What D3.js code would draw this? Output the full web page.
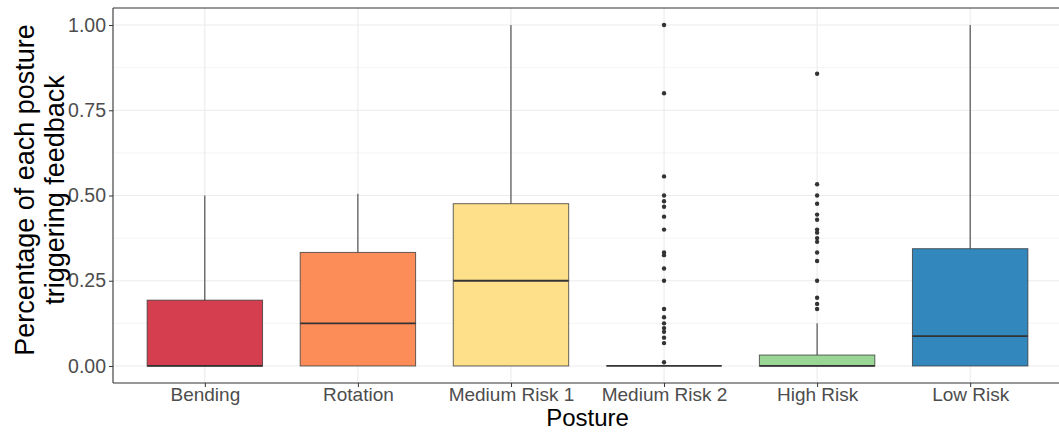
<!DOCTYPE html>
<html>
<head>
<meta charset="utf-8">
<script src="https://cdn.jsdelivr.net/npm/d3@7"></script>
<style>
  body { margin: 0; background: #fff; }
  text { font-family: "Liberation Sans", Arial, sans-serif; }
</style>
</head>
<body>
<script>
// postures and box stats
const postures = ["Bending", "Rotation", "Medium Risk 1", "Medium Risk 2", "High Risk", "Low Risk"];
const colors = ["#D53E4F", "#FC8D59", "#FEE08B", "#E6F598", "#99D594", "#3288BD"];
const lower = [0, 0, 0, 0, 0, 0];
const q1 = [0, 0, 0, 0, 0, 0];
const median = [0, 0.125, 0.25, 0, 0, 0.0877];
const q3 = [0.193, 0.333, 0.476, 0, 0.032, 0.344];
const upper = [0.5, 0.505, 1.0, 0, 0.125, 1.0];
const outliersMR2 = [1.0, 0.8, 0.556, 0.5, 0.483, 0.467, 0.438, 0.4, 0.333, 0.325, 0.286, 0.25, 0.167, 0.143, 0.125, 0.111, 0.1, 0.083, 0.067, 0.011];
const outliersHR = [0.857, 0.533, 0.5, 0.476, 0.444, 0.429, 0.4, 0.391, 0.375, 0.364, 0.333, 0.308, 0.25, 0.2, 0.182, 0.167];
const yTicks = [0, 0.25, 0.5, 0.75, 1.0];
const yMinor = [0.125, 0.375, 0.625, 0.875];

const outliers = [[], [], [], outliersMR2, outliersHR, []];

const W = 1059, H = 435;
const margin = {top: 8, right: -3, bottom: 52, left: 113};

const svg = d3.select("body").append("svg")
    .attr("width", W)
    .attr("height", H);

const x = d3.scalePoint()
    .domain(postures)
    .range([margin.left, W - margin.right])
    .padding(0.6);

const y = d3.scaleLinear()
    .domain([-0.05, 1.05])
    .range([H - margin.bottom, margin.top]);

const boxW = x.step() * 0.754;

// grid
const grid = svg.append("g");
grid.selectAll(".minor").data(yMinor).join("line")
    .attr("x1", margin.left).attr("x2", W)
    .attr("y1", d => y(d)).attr("y2", d => y(d))
    .attr("stroke", "#F4F4F4").attr("stroke-width", 1);
grid.selectAll(".major").data(yTicks).join("line")
    .attr("x1", margin.left).attr("x2", W)
    .attr("y1", d => y(d)).attr("y2", d => y(d))
    .attr("stroke", "#EBEBEB").attr("stroke-width", 1.1);
grid.selectAll(".vmajor").data(postures).join("line")
    .attr("x1", d => x(d)).attr("x2", d => x(d))
    .attr("y1", margin.top).attr("y2", H - margin.bottom)
    .attr("stroke", "#EBEBEB").attr("stroke-width", 1.1);

// boxes
const data = postures.map((p, i) => ({
    p, color: colors[i], lo: lower[i], q1: q1[i], med: median[i], q3: q3[i], hi: upper[i], out: outliers[i]
}));

const g = svg.append("g");
data.forEach(d => {
    const cx = x(d.p);
    // whiskers
    if (d.hi > d.q3) {
        g.append("line")
            .attr("x1", cx).attr("x2", cx)
            .attr("y1", y(d.q3)).attr("y2", y(d.hi))
            .attr("stroke", "#333").attr("stroke-width", 1);
    }
    g.append("rect")
        .attr("x", cx - boxW / 2)
        .attr("width", boxW)
        .attr("y", y(d.q3))
        .attr("height", Math.max(0, y(d.q1) - y(d.q3)))
        .attr("fill", d.color)
        .attr("stroke", "#333")
        .attr("stroke-opacity", 0.75)
        .attr("stroke-width", 1);
    g.append("line")
        .attr("x1", cx - boxW / 2).attr("x2", cx + boxW / 2)
        .attr("y1", y(d.med)).attr("y2", y(d.med))
        .attr("stroke", "#333").attr("stroke-width", 1.8);
    g.selectAll(null).data(d.out).join("circle")
        .attr("cx", cx)
        .attr("cy", v => y(v))
        .attr("r", 2.2)
        .attr("fill", "#333");
});

// panel border
svg.append("line")
    .attr("x1", margin.left).attr("x2", margin.left)
    .attr("y1", margin.top).attr("y2", H - margin.bottom)
    .attr("stroke", "#333").attr("stroke-width", 1.1);
svg.append("line")
    .attr("x1", margin.left).attr("x2", W)
    .attr("y1", margin.top).attr("y2", margin.top)
    .attr("stroke", "#333").attr("stroke-width", 1.1);
svg.append("line")
    .attr("x1", margin.left).attr("x2", W)
    .attr("y1", H - margin.bottom).attr("y2", H - margin.bottom)
    .attr("stroke", "#333").attr("stroke-width", 1.1);

// axes
const yAxis = svg.append("g")
    .attr("transform", `translate(${margin.left},0)`)
    .call(d3.axisLeft(y).tickValues(yTicks).tickFormat(d3.format(".2f")).tickSize(4).tickPadding(3));
yAxis.select(".domain").remove();
yAxis.selectAll("line").attr("stroke", "#333");
yAxis.selectAll("text").attr("fill", "#4D4D4D").style("font-size", "19.5px");

const xAxis = svg.append("g")
    .attr("transform", `translate(0,${H - margin.bottom})`)
    .call(d3.axisBottom(x).tickSize(4).tickPadding(1));
xAxis.select(".domain").remove();
xAxis.selectAll("line").attr("stroke", "#333");
xAxis.selectAll("text").attr("fill", "#4D4D4D").style("font-size", "19px");

// titles
svg.append("text")
    .attr("x", (margin.left + x.range()[1]) / 2)
    .attr("y", 426)
    .attr("text-anchor", "middle")
    .style("font-size", "24px")
    .text("Posture");

const yt = svg.append("text")
    .attr("transform", `translate(34,190) rotate(-90)`)
    .attr("text-anchor", "middle")
    .style("font-size", "27px");
yt.append("tspan").attr("x", 0).attr("dy", 0).text("Percentage of each posture");
yt.append("tspan").attr("x", 0).attr("dy", 30).text("triggering feedback");
</script>
</body>
</html>
